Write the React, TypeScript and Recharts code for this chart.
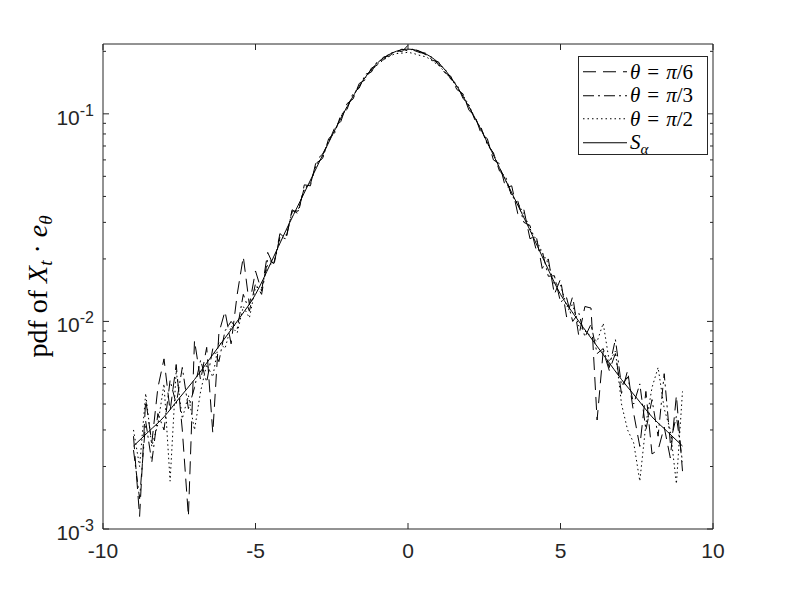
import React from 'react';
import { LineChart, Line, XAxis, YAxis, Legend } from 'recharts';

// bin centres of the empirical histograms
const binX = [
  -9.0, -8.8, -8.6, -8.4, -8.2, -8.0, -7.8, -7.6, -7.4, -7.2,
  -7.0, -6.8, -6.6, -6.4, -6.2, -6.0, -5.8, -5.6, -5.4, -5.2,
  -5.0, -4.8, -4.6, -4.4, -4.2, -4.0, -3.8, -3.6, -3.4, -3.2,
  -3.0, -2.8, -2.6, -2.4, -2.2, -2.0, -1.8, -1.6, -1.4, -1.2,
  -1.0, -0.8, -0.6, -0.4, -0.2, 0.0, 0.2, 0.4, 0.6, 0.8,
  1.0, 1.2, 1.4, 1.6, 1.8, 2.0, 2.2, 2.4, 2.6, 2.8,
  3.0, 3.2, 3.4, 3.6, 3.8, 4.0, 4.2, 4.4, 4.6, 4.8,
  5.0, 5.2, 5.4, 5.6, 5.8, 6.0, 6.2, 6.4, 6.6, 6.8,
  7.0, 7.2, 7.4, 7.6, 7.8, 8.0, 8.2, 8.4, 8.6, 8.8,
  9.0,
];

// theta = pi/6 (dashed)
const pdfPi6 = [
  0.0028, 0.00115, 0.0042, 0.0026, 0.0048, 0.0066, 0.0037, 0.0062, 0.0030, 0.00115,
  0.0081, 0.0052, 0.0075, 0.0029, 0.0088, 0.0112, 0.0078, 0.0135, 0.0205, 0.0120,
  0.0175, 0.0140, 0.0215, 0.0185, 0.0265, 0.0250, 0.0345, 0.0330, 0.0455, 0.0450,
  0.0600, 0.0640, 0.0730, 0.0860, 0.0920, 0.112, 0.118, 0.140, 0.146, 0.166,
  0.172, 0.188, 0.190, 0.203, 0.199, 0.214, 0.202, 0.197, 0.196, 0.181,
  0.178, 0.158, 0.152, 0.131, 0.125, 0.104, 0.0975, 0.0800, 0.0760, 0.0600,
  0.0575, 0.0440, 0.0450, 0.0330, 0.0345, 0.0250, 0.0260, 0.0180, 0.0200, 0.0135,
  0.0160, 0.0105, 0.0132, 0.0085, 0.0118, 0.0116, 0.00335, 0.0072, 0.0058, 0.0070,
  0.0045, 0.0058, 0.0036, 0.0025, 0.0046, 0.0023, 0.0024, 0.0031, 0.0022, 0.0044,
  0.0019,
];

// theta = pi/3 (dash-dot)
const pdfPi3 = [
  0.0024, 0.0014, 0.0033, 0.0021, 0.0036, 0.0030, 0.0052, 0.0040, 0.0060, 0.0038,
  0.0048, 0.0065, 0.0051, 0.0074, 0.0064, 0.0090, 0.0100, 0.0092, 0.0135, 0.0112,
  0.0152, 0.0135, 0.0200, 0.0190, 0.0255, 0.0250, 0.0340, 0.0340, 0.0440, 0.0460,
  0.0580, 0.0610, 0.0760, 0.0810, 0.0990, 0.105, 0.126, 0.133, 0.155, 0.159,
  0.180, 0.182, 0.197, 0.197, 0.205, 0.201, 0.206, 0.199, 0.192, 0.187,
  0.172, 0.166, 0.147, 0.139, 0.119, 0.110, 0.0930, 0.0855, 0.0710, 0.0650,
  0.0530, 0.0500, 0.0400, 0.0380, 0.0300, 0.0290, 0.0222, 0.0218, 0.0165, 0.0166,
  0.0124, 0.0130, 0.0100, 0.0110, 0.0084, 0.0097, 0.0070, 0.0074, 0.0060, 0.0082,
  0.0049, 0.0054, 0.0040, 0.0050, 0.0030, 0.0042, 0.0028, 0.0056, 0.0026, 0.0035,
  0.0021,
];

// theta = pi/2 (dotted)
const pdfPi2 = [
  0.0030, 0.0020, 0.0045, 0.0025, 0.0032, 0.0050, 0.0017, 0.0058, 0.0034, 0.0044,
  0.0030, 0.0046, 0.0062, 0.0054, 0.0080, 0.0074, 0.0095, 0.0088, 0.0118, 0.0104,
  0.0146, 0.0145, 0.0188, 0.0190, 0.0248, 0.0260, 0.0335, 0.0345, 0.0430, 0.0465,
  0.0570, 0.0615, 0.0745, 0.0825, 0.0970, 0.108, 0.122, 0.136, 0.149, 0.161,
  0.173, 0.182, 0.190, 0.195, 0.196, 0.198, 0.195, 0.191, 0.188, 0.180,
  0.171, 0.160, 0.148, 0.135, 0.123, 0.110, 0.0945, 0.0850, 0.0720, 0.0645,
  0.0545, 0.0480, 0.0405, 0.0370, 0.0330, 0.0280, 0.0248, 0.0215, 0.0190, 0.0150,
  0.0150, 0.0118, 0.0120, 0.0095, 0.0090, 0.0085, 0.0080, 0.0098, 0.0064, 0.0072,
  0.0040, 0.0030, 0.0026, 0.0017, 0.0032, 0.0048, 0.0060, 0.0038, 0.0030, 0.00165,
  0.0046,
];

// stable density S_alpha (solid)
const stableX = [
  -9, -8.5, -8, -7.5, -7, -6.5, -6, -5.5, -5, -4.5, -4, -3.5, -3, -2.5, -2, -1.5, -1, -0.5,
  0,
  0.5, 1, 1.5, 2, 2.5, 3, 3.5, 4, 4.5, 5, 5.5, 6, 6.5, 7, 7.5, 8, 8.5, 9,
];
const stablePdf = [
  0.00251, 0.00295, 0.00347, 0.00427, 0.00525, 0.00661, 0.00832, 0.0105, 0.0135, 0.0191,
  0.0275, 0.0389, 0.0550, 0.0780, 0.108, 0.143, 0.176, 0.197,
  0.205,
  0.197, 0.176, 0.143, 0.108, 0.0780, 0.0550, 0.0389, 0.0275, 0.0191, 0.0135, 0.0105,
  0.00832, 0.00661, 0.00525, 0.00427, 0.00347, 0.00295, 0.00251,
];

const xTicks = [-10, -5, 0, 5, 10];
const yTicks = [
  0.001, 0.002, 0.003, 0.004, 0.005, 0.006, 0.007, 0.008, 0.009,
  0.01, 0.02, 0.03, 0.04, 0.05, 0.06, 0.07, 0.08, 0.09,
  0.1, 0.2,
];
const yMajor = [0.001, 0.01, 0.1];
const yMajorExp = ['-3', '-2', '-1'];

const seriesA = binX.map((x, i) => ({ x, y: pdfPi6[i] }));
const seriesB = binX.map((x, i) => ({ x, y: pdfPi3[i] }));
const seriesC = binX.map((x, i) => ({ x, y: pdfPi2[i] }));
const seriesS = stableX.map((x, i) => ({ x, y: stablePdf[i] }));

const AXIS = '#262626';
const SANS = "'Liberation Sans', Arial, Helvetica, sans-serif";
const SERIF = "'Liberation Serif', 'Times New Roman', serif";

const DASH = '13 7';
const DASHDOT = '11 4 2 4';
const DOT = '1.5 3';

function LeftTick(props: any) {
  const { x, y, payload } = props;
  const idx = yMajor.indexOf(payload.value);
  const major = idx >= 0;
  return (
    <g>
      <line x1={x} x2={x + (major ? 6 : 3)} y1={y} y2={y} stroke={AXIS} strokeWidth={1} />
      {major && (
        <text x={x - 9} y={y + 11} textAnchor="end" fontFamily={SANS} fontSize={21} fill={AXIS}>
          <tspan>10</tspan>
          <tspan dy={-9} fontSize={16}>{yMajorExp[idx]}</tspan>
        </text>
      )}
    </g>
  );
}

function RightTick(props: any) {
  const { x, y, payload } = props;
  const major = yMajor.indexOf(payload.value) >= 0;
  return <line x1={x} x2={x - (major ? 6 : 3)} y1={y} y2={y} stroke={AXIS} strokeWidth={1} />;
}

function BottomTick(props: any) {
  const { x, y, payload } = props;
  return (
    <g>
      <line x1={x} x2={x} y1={y} y2={y - 6} stroke={AXIS} strokeWidth={1} />
      <text x={x} y={y + 29} textAnchor="middle" fontFamily={SANS} fontSize={21} fill={AXIS}>
        {String(payload.value)}
      </text>
    </g>
  );
}

function TopTick(props: any) {
  const { x, y } = props;
  return <line x1={x} x2={x} y1={y} y2={y + 6} stroke={AXIS} strokeWidth={1} />;
}

function YLabel(props: any) {
  const vb = props.viewBox || { x: 0, y: 44, width: 103, height: 485 };
  const tx = vb.x + 47;
  const cy = vb.y + vb.height / 2;
  return (
    <text
      x={tx}
      y={cy}
      transform={`rotate(-90, ${tx}, ${cy})`}
      textAnchor="middle"
      fontFamily={SERIF}
      fontSize={28}
      fill="#000"
    >
      <tspan>pdf of </tspan>
      <tspan fontStyle="italic">X</tspan>
      <tspan fontStyle="italic" fontSize={19} dy={5}>t</tspan>
      <tspan dy={-5}>{' \u00B7 '}</tspan>
      <tspan fontStyle="italic">e</tspan>
      <tspan fontStyle="italic" fontSize={19} dy={5}>θ</tspan>
    </text>
  );
}

const legendRows = [
  { dash: DASH, label: <span><i>θ</i>{'\u2004=\u2004'}<i>π</i>/6</span> },
  { dash: DASHDOT, label: <span><i>θ</i>{'\u2004=\u2004'}<i>π</i>/3</span> },
  { dash: DOT, label: <span><i>θ</i>{'\u2004=\u2004'}<i>π</i>/2</span> },
  {
    dash: undefined,
    label: (
      <span>
        <i>S</i>
        <i style={{ fontSize: 15, verticalAlign: '-5px', lineHeight: 0 }}>α</i>
      </span>
    ),
  },
];

function LegendBox() {
  return (
    <div
      style={{
        border: `1px solid ${AXIS}`,
        background: '#fff',
        width: 130,
        height: 99,
        boxSizing: 'border-box',
        paddingTop: 3,
        fontFamily: SERIF,
        fontSize: 21,
        color: '#000',
        whiteSpace: 'nowrap',
      }}
    >
      {legendRows.map((r, i) => (
        <div key={i} style={{ display: 'flex', alignItems: 'center', height: 23.5, lineHeight: '22px' }}>
          <svg width={51} height={23.5} style={{ display: 'block', flex: 'none' }}>
            <line x1={4} x2={48} y1={11.75} y2={11.75} stroke="#000" strokeWidth={1} strokeDasharray={r.dash} />
          </svg>
          {r.label}
        </div>
      ))}
    </div>
  );
}

export default function App() {
  return (
    <div style={{ position: 'absolute', left: 0, top: 0, width: 793, height: 595, background: '#fff' }}>
      <LineChart width={793} height={595} margin={{ top: 0, right: 0, bottom: 0, left: 0 }}>
        <XAxis
          dataKey="x"
          type="number"
          domain={[-10, 10]}
          ticks={xTicks}
          interval={0}
          allowDataOverflow
          height={66}
          tickSize={0}
          tickMargin={0}
          tickLine={false}
          axisLine={{ stroke: AXIS }}
          tick={<BottomTick />}
        />
        <XAxis
          xAxisId="top"
          orientation="top"
          dataKey="x"
          type="number"
          domain={[-10, 10]}
          ticks={xTicks}
          interval={0}
          allowDataOverflow
          height={44}
          tickSize={0}
          tickMargin={0}
          tickLine={false}
          axisLine={{ stroke: AXIS }}
          tick={<TopTick />}
        />
        <YAxis
          scale="log"
          type="number"
          domain={[0.001, 0.217]}
          ticks={yTicks}
          interval={0}
          allowDataOverflow
          width={103}
          tickSize={0}
          tickMargin={0}
          tickLine={false}
          axisLine={{ stroke: AXIS }}
          tick={<LeftTick />}
          label={<YLabel />}
        />
        <YAxis
          yAxisId="right"
          orientation="right"
          scale="log"
          type="number"
          domain={[0.001, 0.217]}
          ticks={yTicks}
          interval={0}
          allowDataOverflow
          width={80}
          tickSize={0}
          tickMargin={0}
          tickLine={false}
          axisLine={{ stroke: AXIS }}
          tick={<RightTick />}
        />
        <Legend
          layout="horizontal"
          align="center"
          verticalAlign="middle"
          content={<LegendBox />}
          wrapperStyle={{ left: 578, top: 56, width: 130, height: 99 }}
        />
        <Line data={seriesA} dataKey="y" type="linear" stroke="#000" strokeWidth={1} strokeDasharray={DASH} dot={false} isAnimationActive={false} name="pi6" />
        <Line data={seriesB} dataKey="y" type="linear" stroke="#000" strokeWidth={1} strokeDasharray={DASHDOT} dot={false} isAnimationActive={false} name="pi3" />
        <Line data={seriesC} dataKey="y" type="linear" stroke="#000" strokeWidth={1} strokeDasharray={DOT} dot={false} isAnimationActive={false} name="pi2" />
        <Line data={seriesS} dataKey="y" type="monotone" stroke="#000" strokeWidth={1} dot={false} isAnimationActive={false} name="S" />
      </LineChart>
    </div>
  );
}
